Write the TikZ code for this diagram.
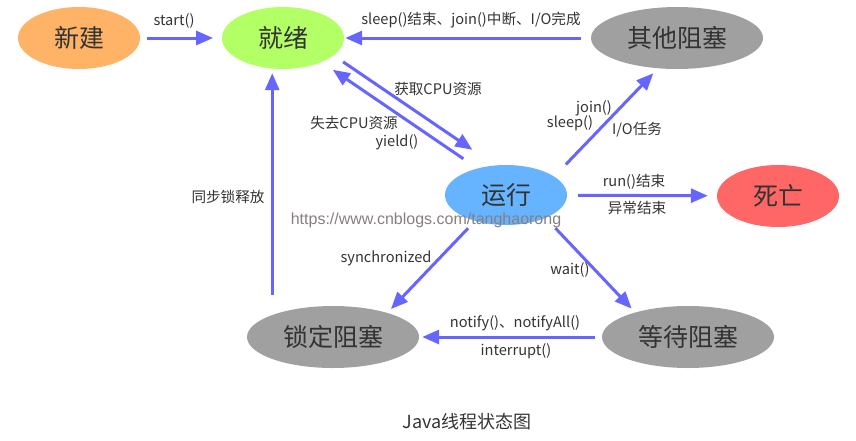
\documentclass[tikz,border=0pt]{standalone}
\usepackage{fontspec}
\setmainfont{Noto Sans CJK SC}
\newfontfamily\wmfont{Liberation Sans}
\usepackage{tikz}
\usetikzlibrary{shapes.geometric,arrows.meta}
\definecolor{newc}{HTML}{FFB366}
\definecolor{readyc}{HTML}{B3FF66}
\definecolor{blockc}{HTML}{A0A0A0}
\definecolor{runc}{HTML}{66B3FF}
\definecolor{deadc}{HTML}{FF6666}
\definecolor{arrowc}{HTML}{6666FF}
\definecolor{txtc}{HTML}{333333}
\definecolor{wmc}{HTML}{877F7F}

\begin{document}
\begin{tikzpicture}[x=1pt,y=-1pt,state/.style n args={3}{ellipse,fill=#1,minimum width=#2pt,minimum height=#3pt,inner sep=0pt,text=txtc,font=\fontsize{25}{25}\selectfont},trans/.style={draw=arrowc,line width=3pt,-{Triangle[length=17pt,width=14pt]}},lbl/.style={text=txtc,inner sep=0pt,font=\fontsize{14.6}{15}\selectfont}]
\useasboundingbox (0,0) rectangle (856,440);
% states
\node[state={newc}{122}{62}] (xinjian) at (79,38) {新建};
\node[state={readyc}{122}{62}] (jiuxu) at (283,38) {就绪};
\node[state={blockc}{172}{62}] (qita) at (677,38) {其他阻塞};
\node[state={runc}{122}{60}] (yunxing) at (506,195) {运行};
\node[state={deadc}{122}{62}] (siwang) at (778,196) {死亡};
\node[state={blockc}{172}{62}] (suoding) at (333,337) {锁定阻塞};
\node[state={blockc}{172}{62}] (dengdai) at (688,337) {等待阻塞};
% transitions
\draw[trans,shorten <=6.7pt,shorten >=8.7pt] (xinjian) -- (jiuxu);
\draw[trans,shorten <=10pt,shorten >=1pt] (qita) -- (jiuxu);
\draw[trans,shorten <=11.4pt,shorten >=27.6pt] (jiuxu.-19.2) -- (yunxing.110.8);
\draw[trans,shorten <=17pt,shorten >=13.5pt] (yunxing.137.6) -- (jiuxu.-32.7);
\draw[trans,shorten <=16.7pt,shorten >=6.7pt] (yunxing.21.8) -- (qita.-122.6);
\draw[trans,shorten <=11pt,shorten >=9pt] (yunxing) -- (siwang);
\draw[trans,shorten <=9.9pt,shorten >=5.2pt] (yunxing.-140.2) -- (suoding.24.5);
\draw[trans,shorten <=13.9pt,shorten >=5.1pt] (yunxing.-30.1) -- (dengdai.155.6);
\draw[trans,shorten <=7pt,shorten >=3pt] (dengdai) -- (suoding);
\draw[trans,shorten <=20pt,shorten >=4pt] (suoding.160.3) -- (suoding.160.3 |- jiuxu.south);
% labels
\foreach \nm/\x/\y/\txt in %
{lStart/174/21/{start()},lDone/471/20/{sleep()结束、join()中断、I/O完成},
 lGet/438/89/{获取CPU资源},lLose/354/123/{失去CPU资源},lYield/397/142/{yield()},
 lJoin/594/108/{join()},lSleep/570/123/{sleep()},lIO/637/130/{I/O任务},
 lRun/634/182/{run()结束},lErr/637/208/{异常结束},lLock/228/197/{同步锁释放},
 lSync/386/258/{synchronized},lWait/570/270/{wait()},
 lNotify/515/323/{notify()、notifyAll()},lIntr/516/351/{interrupt()}} {
   \node[lbl] (\nm) at (\x,\y) {\txt};
}
\node[text=wmc,inner sep=0pt,font=\wmfont\fontsize{16}{16}\selectfont] (wm) at (426,220) {https://www.cnblogs.com/tanghaorong};
\node[text=txtc,inner sep=0pt,font=\fontsize{18}{18}\selectfont] (title) at (467,422) {Java线程状态图};
\end{tikzpicture}
\end{document}
